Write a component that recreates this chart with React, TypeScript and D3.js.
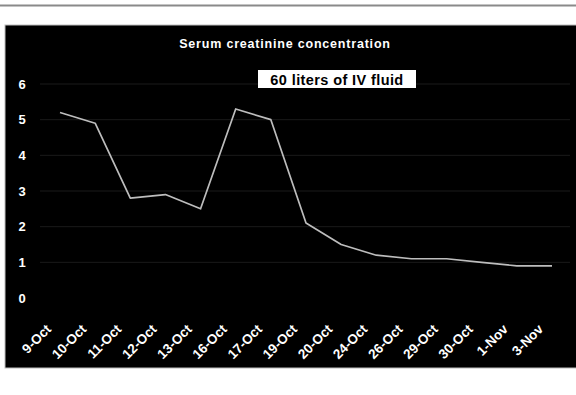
import React from "react";
import * as d3 from "d3";

const categories = ["9-Oct", "10-Oct", "11-Oct", "12-Oct", "13-Oct", "16-Oct", "17-Oct", "19-Oct", "20-Oct", "24-Oct", "26-Oct", "29-Oct", "30-Oct", "1-Nov", "3-Nov"];
const creatinine = [5.2, 4.9, 2.8, 2.9, 2.5, 5.3, 5.0, 2.1, 1.5, 1.2, 1.1, 1.1, 1.0, 0.9, 0.9];
const yTicks = [0, 1, 2, 3, 4, 5, 6];
const title = "Serum creatinine concentration";
const annotation = "60 liters of IV fluid";

const W = 576;
const H = 395;

export default function App() {
  const x = d3.scalePoint<string>().domain(categories).range([60, 552]);
  const y = d3.scaleLinear().domain([0, 6]).range([298, 84]);
  const line = d3
    .line<number>()
    .x((_, i) => x(categories[i]) as number)
    .y((d) => y(d));
  const font = "'Liberation Sans', Arial, Helvetica, sans-serif";

  return (
    <svg width={W} height={H} style={{ position: "absolute", left: 0, top: 0 }} fontFamily={font}>
      <rect x={0} y={0} width={W} height={H} fill="#ffffff" />
      <line x1={0} x2={W} y1={5.5} y2={5.5} stroke="#8a8a8a" strokeWidth={2} />
      <rect x={5} y={25} width={W} height={343} fill="#000000" stroke="#bdbdbd" strokeWidth={1} />
      {yTicks.filter((t) => t > 0).map((t) => (
        <line key={t} x1={40} x2={570} y1={y(t)} y2={y(t)} stroke="#1a1a1a" strokeWidth={1} />
      ))}
      {yTicks.map((t) => (
        <text key={t} x={22} y={y(t)} dy="0.36em" textAnchor="middle" fill="#ffffff" fontWeight="bold" fontSize={13}>
          {t}
        </text>
      ))}
      <path d={line(creatinine) || ""} fill="none" stroke="#bdbdbd" strokeWidth={1.7} strokeLinejoin="round" />
      {categories.map((c) => {
        const cx = (x(c) as number) - 8;
        const cy = 330;
        return (
          <text key={c} x={cx} y={cy} transform={`rotate(-45 ${cx} ${cy})`} textAnchor="end" fill="#ffffff" fontWeight="bold" fontSize={13.5}>
            {c}
          </text>
        );
      })}
      <text x={285} y={48} textAnchor="middle" fill="#ffffff" fontWeight="bold" fontSize={12.5} letterSpacing={0.8}>
        {title}
      </text>
      <rect x={258} y={70} width={158} height={18} fill="#ffffff" />
      <text x={337} y={85} textAnchor="middle" fill="#000000" fontWeight="bold" fontSize={14.5} letterSpacing={0.4}>
        {annotation}
      </text>
    </svg>
  );
}
